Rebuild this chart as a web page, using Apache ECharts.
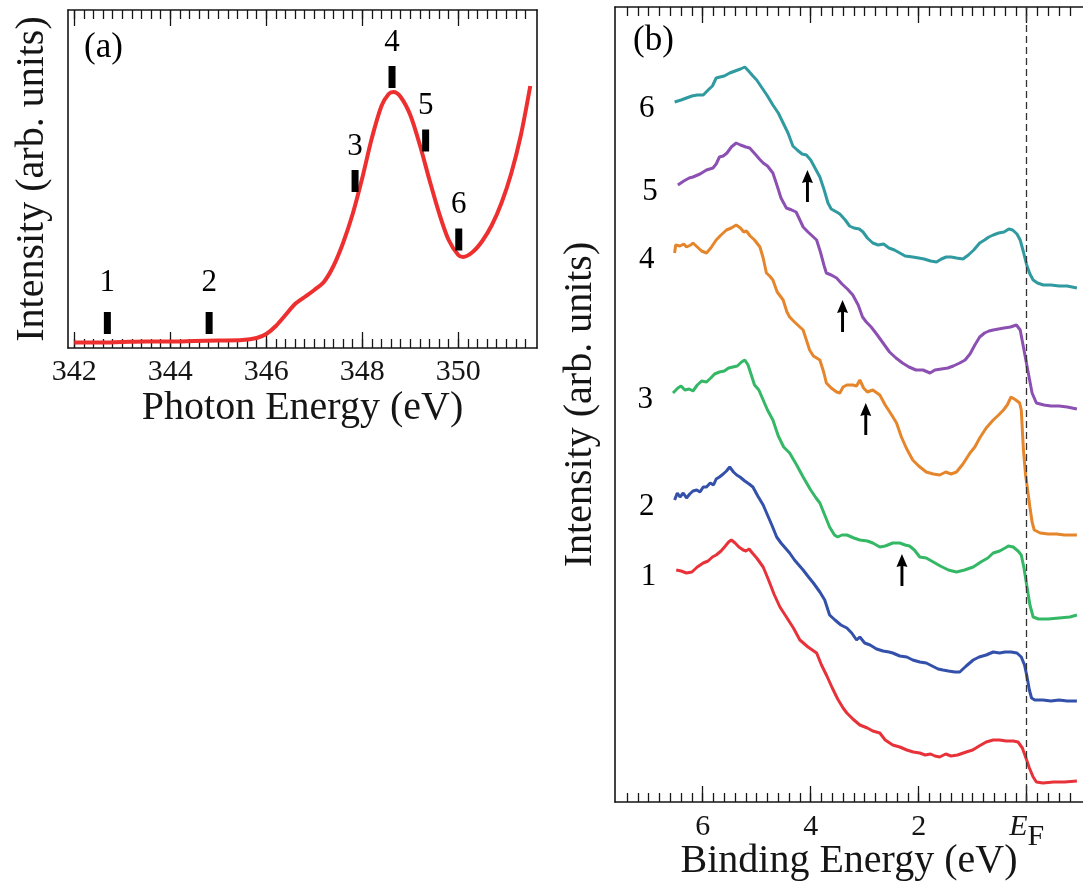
<!DOCTYPE html>
<html><head><meta charset="utf-8">
<script src="https://cdn.jsdelivr.net/npm/echarts@6/dist/echarts.min.js"></script>
<style>html,body{margin:0;padding:0;background:#fff}#c{width:1083px;height:894px}</style>
</head><body><div id="c"></div>
<script>
const FONT = '"Liberation Serif", "Times New Roman", serif';

// ---------- Panel (a): absorption spectrum ----------
const photonEnergy = [342.0, 342.5, 343.0, 343.5, 344.0, 344.5, 345.0, 345.5, 345.8, 346.0, 346.2, 346.4, 346.6, 346.8, 347.0, 347.2, 347.4, 347.6, 347.8, 348.0, 348.2, 348.4, 348.55, 348.65, 348.8, 349.0, 349.2, 349.4, 349.6, 349.8, 350.0, 350.1, 350.3, 350.5, 350.7, 350.9, 351.1, 351.3, 351.5];
const xasIntensity = [5.5, 5.5, 6, 6.5, 6.5, 7, 7.5, 8, 10, 14, 22, 33, 44, 51, 58, 66, 82, 105, 134, 170, 210, 242, 254, 256, 251, 233, 203, 168, 135, 108, 93, 91, 96, 107, 123, 145, 174, 212, 262];
const markerEnergy = [342.69, 344.81, 347.85, 348.62, 349.32, 350.01];
const markerIntensity = [25, 25, 167, 271, 207.5, 108.5];
const markerNames = ['1', '2', '3', '4', '5', '6'];
const photonTicks = [342, 344, 346, 348, 350];

// ---------- Panel (b): photoemission spectra (binding energy, intensity) ----------
const spectrumNames = ['1', '2', '3', '4', '5', '6'];
const spectrumColors = ['#e8323a', '#3350aa', '#34b866', '#e6862c', '#8b50b2', '#2f9aa0'];
const spec1 = [[6.49,232],[6.40,231],[6.30,229],[6.20,230],[6.10,235],[5.99,239],[5.90,241],[5.82,245],[5.75,247],[5.66,251],[5.58,256],[5.52,260],[5.47,262],[5.40,259],[5.33,255],[5.25,252],[5.20,251],[5.14,253],[5.08,249],[5.00,244],[4.88,235],[4.78,222],[4.68,208],[4.57,195],[4.45,185],[4.32,174],[4.20,162],[4.05,155],[3.89,149],[3.80,137],[3.70,126],[3.60,114],[3.50,103],[3.40,94],[3.33,89],[3.22,83],[3.09,77],[2.95,74],[2.85,71],[2.72,69],[2.62,62],[2.48,57],[2.35,55],[2.22,52],[2.10,50],[1.98,49],[1.88,47],[1.78,48],[1.70,46],[1.61,45],[1.50,48],[1.40,46],[1.28,47],[1.12,50],[1.00,52],[0.88,56],[0.75,60],[0.62,62],[0.50,62],[0.38,61],[0.25,61],[0.16,60],[0.08,54],[0.02,45],[-0.05,34],[-0.12,25],[-0.18,20],[-0.30,19],[-0.50,20],[-0.70,20],[-0.93,21]];
const spec2 = [[6.52,302],[6.47,309],[6.42,305],[6.36,309],[6.30,304],[6.24,308],[6.18,311],[6.11,312],[6.05,310],[5.99,315],[5.93,315],[5.86,319],[5.80,317],[5.75,323],[5.69,325],[5.62,328],[5.56,331],[5.50,335],[5.43,330],[5.37,327],[5.31,325],[5.22,321],[5.14,318],[5.07,315],[4.98,306],[4.88,297],[4.80,287],[4.72,277],[4.63,265],[4.55,259],[4.47,254],[4.39,249],[4.30,242],[4.22,237],[4.14,232],[4.04,225],[3.95,219],[3.83,210],[3.74,202],[3.65,187],[3.55,182],[3.44,177],[3.33,174],[3.24,169],[3.15,162],[3.09,165],[3.00,159],[2.90,157],[2.78,153],[2.66,151],[2.55,150],[2.48,149],[2.35,146],[2.22,145],[2.11,142],[1.98,140],[1.86,139],[1.75,136],[1.64,133],[1.55,132],[1.45,131],[1.33,130],[1.24,130],[1.12,136],[0.99,142],[0.88,145],[0.75,147],[0.62,150],[0.50,149],[0.40,150],[0.29,150],[0.18,149],[0.10,145],[0.04,137],[0.00,127],[-0.05,112],[-0.09,104],[-0.15,102],[-0.30,102],[-0.45,101],[-0.60,102],[-0.75,101],[-0.93,101]];
const spec3 = [[6.55,409],[6.46,414],[6.40,416],[6.33,412],[6.25,413],[6.18,411],[6.10,417],[6.02,421],[5.93,420],[5.85,424],[5.78,428],[5.69,430],[5.60,431],[5.52,434],[5.44,435],[5.36,436],[5.28,440],[5.22,442],[5.16,437],[5.10,427],[5.04,417],[4.96,412],[4.88,402],[4.80,392],[4.70,382],[4.60,366],[4.50,355],[4.39,349],[4.26,337],[4.14,325],[4.00,312],[3.90,304],[3.83,299],[3.74,287],[3.65,275],[3.56,267],[3.50,265],[3.42,267],[3.33,267],[3.20,264],[3.09,262],[2.95,261],[2.85,259],[2.72,255],[2.62,256],[2.48,259],[2.35,259],[2.25,257],[2.17,256],[2.08,252],[1.98,245],[1.86,244],[1.73,240],[1.60,236],[1.45,232],[1.30,230],[1.15,232],[0.99,235],[0.85,240],[0.72,244],[0.62,249],[0.50,251],[0.40,254],[0.34,256],[0.25,255],[0.16,251],[0.10,247],[0.05,234],[0.00,217],[-0.06,197],[-0.12,185],[-0.22,183],[-0.40,183],[-0.60,184],[-0.80,185],[-0.93,187]];
const spec4 = [[6.52,549],[6.50,557],[6.42,556],[6.35,558],[6.30,555],[6.22,557],[6.18,559],[6.10,555],[6.02,551],[5.93,549],[5.85,554],[5.80,558],[5.75,562],[5.68,566],[5.62,569],[5.56,572],[5.47,574],[5.38,577],[5.30,574],[5.24,570],[5.19,571],[5.12,566],[5.04,562],[4.94,555],[4.88,544],[4.82,529],[4.76,526],[4.70,522],[4.62,510],[4.51,502],[4.44,490],[4.39,485],[4.30,480],[4.20,475],[4.14,472],[4.08,462],[4.02,452],[3.95,446],[3.83,442],[3.76,430],[3.71,419],[3.62,414],[3.52,410],[3.46,409],[3.40,415],[3.33,417],[3.22,417],[3.15,416],[3.09,422],[3.02,414],[2.95,410],[2.85,412],[2.72,407],[2.62,397],[2.50,387],[2.41,379],[2.32,365],[2.23,354],[2.11,342],[2.00,336],[1.86,330],[1.73,328],[1.61,327],[1.50,330],[1.40,328],[1.30,330],[1.18,338],[1.05,349],[0.96,355],[0.87,364],[0.75,374],[0.62,382],[0.52,387],[0.43,392],[0.36,397],[0.29,405],[0.20,402],[0.13,399],[0.10,392],[0.06,352],[0.02,327],[-0.03,307],[-0.06,295],[-0.10,280],[-0.14,272],[-0.25,269],[-0.40,268],[-0.55,268],[-0.70,267],[-0.93,267]];
const spec5 = [[6.46,617],[6.35,621],[6.25,624],[6.18,625],[6.05,628],[5.93,632],[5.81,634],[5.75,638],[5.69,645],[5.62,646],[5.55,649],[5.47,655],[5.38,659],[5.30,657],[5.20,655],[5.13,654],[5.03,648],[4.95,643],[4.88,639],[4.80,636],[4.70,629],[4.62,616],[4.55,604],[4.45,594],[4.35,592],[4.27,590],[4.20,582],[4.14,575],[4.05,570],[3.97,566],[3.89,562],[3.82,550],[3.75,536],[3.71,529],[3.62,527],[3.52,524],[3.42,518],[3.32,513],[3.22,507],[3.12,497],[3.04,485],[2.97,480],[2.88,475],[2.78,468],[2.66,459],[2.54,450],[2.42,444],[2.30,439],[2.18,435],[2.05,432],[1.92,432],[1.79,429],[1.70,432],[1.58,433],[1.46,434],[1.36,436],[1.24,439],[1.14,442],[1.05,448],[0.96,457],[0.87,465],[0.78,469],[0.70,471],[0.62,472],[0.52,473],[0.42,474],[0.30,475],[0.19,477],[0.12,472],[0.05,452],[-0.03,429],[-0.10,409],[-0.18,399],[-0.32,397],[-0.45,396],[-0.60,396],[-0.75,395],[-0.93,393]];
const spec6 = [[6.52,700],[6.40,702],[6.30,704],[6.20,706],[6.10,707],[5.99,707],[5.90,712],[5.82,716],[5.75,724],[5.68,725],[5.60,726],[5.50,729],[5.40,731],[5.30,733],[5.22,735],[5.15,731],[5.07,726],[5.00,722],[4.90,714],[4.80,706],[4.70,697],[4.60,689],[4.51,679],[4.42,669],[4.33,656],[4.25,652],[4.16,648],[4.08,647],[4.00,642],[3.92,634],[3.83,625],[3.75,612],[3.68,599],[3.62,593],[3.52,590],[3.46,588],[3.36,582],[3.28,576],[3.20,574],[3.10,573],[3.03,570],[2.95,564],[2.85,559],[2.75,557],[2.65,558],[2.55,554],[2.45,552],[2.35,549],[2.25,546],[2.11,545],[2.00,544],[1.90,543],[1.78,541],[1.67,540],[1.58,543],[1.49,545],[1.40,545],[1.30,544],[1.18,543],[1.08,547],[0.98,552],[0.87,559],[0.78,562],[0.70,565],[0.62,567],[0.52,569],[0.42,570],[0.33,573],[0.26,572],[0.18,568],[0.12,562],[0.06,550],[0.00,537],[-0.06,528],[-0.12,522],[-0.20,519],[-0.31,517],[-0.45,517],[-0.60,516],[-0.75,516],[-0.93,514]];
const spectra = [spec1, spec2, spec3, spec4, spec5, spec6];
const arrowEnergy = [4.06, 3.41, 2.98, 2.31];
const arrowIntensity = [616, 486, 383, 232];
const bindingTicks = [6, 4, 2, 0];

// ---------- helpers ----------
function steps(a, b, s) { const r = []; for (let v = a; v <= b + 1e-9; v += s) r.push(Math.round(v * 10) / 10); return r; }
const photonMinor = steps(342, 351.4, 0.2);
const bindingMinor = steps(-0.8, 7.4, 0.2);
const INK = '#151515';

function frameX(grid, min, max, majors, minors, inverse, label, name, nameGap) {
  const base = { type: 'value', gridIndex: grid, min: min, max: max, inverse: inverse, splitLine: { show: false } };
  const line = { show: true, onZero: false, lineStyle: { color: INK, width: 1.6 } };
  const tickStyle = { color: INK, width: 1.3 };
  return [
    Object.assign({}, base, { position: 'bottom', axisLine: line,
      axisTick: { show: true, inside: true, length: 16, customValues: majors, lineStyle: tickStyle },
      axisLabel: label, name: name, nameLocation: 'middle', nameGap: nameGap, nameMoveOverlap: false,
      nameTextStyle: { fontFamily: FONT, fontSize: 40, color: INK } }),
    Object.assign({}, base, { position: 'top', axisLine: line,
      axisTick: { show: true, inside: true, length: 16, customValues: majors, lineStyle: tickStyle },
      axisLabel: { show: false } }),
    Object.assign({}, base, { position: 'bottom', axisLine: { show: false, onZero: false },
      axisTick: { show: true, inside: true, length: 9, customValues: minors, lineStyle: tickStyle },
      axisLabel: { show: false } }),
    Object.assign({}, base, { position: 'top', axisLine: { show: false, onZero: false },
      axisTick: { show: true, inside: true, length: 9, customValues: minors, lineStyle: tickStyle },
      axisLabel: { show: false } })
  ];
}

const xAxes = [].concat(
  frameX(0, 341.87, 351.64, photonTicks, photonMinor, false,
    { show: true, customValues: photonTicks, margin: 9, fontFamily: FONT, fontSize: 30, color: INK },
    'Photon Energy (eV)', 40),
  frameX(1, -1.043, 7.624, bindingTicks, bindingMinor, true,
    { show: true, customValues: bindingTicks, margin: 10, fontFamily: FONT, fontSize: 30, color: INK,
      formatter: function (v) { return v === 0 ? '{e|E}{f|F}' : String(v); },
      rich: { e: { fontFamily: FONT, fontSize: 30, fontStyle: 'italic', color: INK, verticalAlign: 'top', padding: [0, 0, 10, 0] },
              f: { fontFamily: FONT, fontSize: 30, color: INK, verticalAlign: 'top', padding: [10, 0, 0, 0] } } },
    'Binding Energy (eV)', 39)
);

const yLine = { show: true, onZero: false, lineStyle: { color: INK, width: 1.6 } };
const yAxes = [
  { type: 'value', gridIndex: 0, min: 0, max: 338, position: 'left', axisLine: yLine, axisTick: { show: false }, axisLabel: { show: false }, splitLine: { show: false },
    name: 'Intensity (arb. units)', nameLocation: 'middle', nameGap: 16, nameMoveOverlap: false, nameTextStyle: { fontFamily: FONT, fontSize: 40, color: INK } },
  { type: 'value', gridIndex: 0, min: 0, max: 338, position: 'right', axisLine: yLine, axisTick: { show: false }, axisLabel: { show: false }, splitLine: { show: false } },
  { type: 'value', gridIndex: 1, min: 0, max: 795, position: 'left', axisLine: yLine, axisTick: { show: false }, axisLabel: { show: false }, splitLine: { show: false },
    name: 'Intensity (arb. units)', nameLocation: 'middle', nameGap: 15, nameMoveOverlap: false, nameTextStyle: { fontFamily: FONT, fontSize: 40, color: INK } }
];

const series = [];
series.push({ type: 'line', xAxisIndex: 0, yAxisIndex: 0, smooth: 0.3, showSymbol: false,
  data: photonEnergy.map((e, i) => [e, xasIntensity[i]]), lineStyle: { color: '#ee2f2f', width: 4 }, z: 3 });
series.push({ type: 'scatter', xAxisIndex: 0, yAxisIndex: 0, symbol: 'rect', symbolSize: [7, 22],
  itemStyle: { color: '#000', opacity: 1 }, z: 4,
  data: markerEnergy.map((e, i) => ({ value: [e, markerIntensity[i]], name: markerNames[i],
    label: { distance: i < 2 ? 14 : 8 } })),
  label: { show: true, position: 'top', formatter: '{b}', fontFamily: FONT, fontSize: 31, color: '#000', opacity: 1 } });

spectra.forEach((s, i) => {
  const ser = { type: 'line', xAxisIndex: 4, yAxisIndex: 2, showSymbol: false, smooth: false,
    data: s.slice().reverse(), lineStyle: { color: spectrumColors[i], width: 3 }, z: 3,
    endLabel: { show: true, formatter: spectrumNames[i], fontFamily: FONT, fontSize: 31, color: '#000', distance: 20, offset: [0, 7] } };
  if (i === 0) {
    ser.markLine = { silent: true, symbol: 'none', label: { show: false },
      lineStyle: { color: '#333', width: 1.3, type: [7, 4] }, data: [{ xAxis: 0 }] };
  }
  series.push(ser);
});
series.push({ type: 'scatter', xAxisIndex: 4, yAxisIndex: 2, z: 5,
  symbol: 'path://M6,0 L12,13 L7.6,12 L7.6,32 L4.4,32 L4.4,12 L0,13 Z', symbolSize: [11, 32], symbolKeepAspect: false,
  itemStyle: { color: '#000', opacity: 1 }, data: arrowEnergy.map((e, i) => [e, arrowIntensity[i]]) });

const chart = echarts.init(document.getElementById('c'), null, { renderer: 'canvas' });
chart.setOption({
  animation: false,
  backgroundColor: '#fff',
  grid: [
    { left: 68, top: 10, width: 469, height: 338, outerBoundsMode: 'none', containLabel: false },
    { left: 615, top: 7, width: 468, height: 795, outerBoundsMode: 'none', containLabel: false }
  ],
  xAxis: xAxes,
  yAxis: yAxes,
  series: series,
  graphic: [
    { type: 'text', left: 84, top: 30, style: { text: '(a)', fontFamily: FONT, fontSize: 35, fill: '#000' } },
    { type: 'text', left: 633, top: 23, style: { text: '(b)', fontFamily: FONT, fontSize: 35, fill: '#000' } }
  ]
});
</script></body></html>
